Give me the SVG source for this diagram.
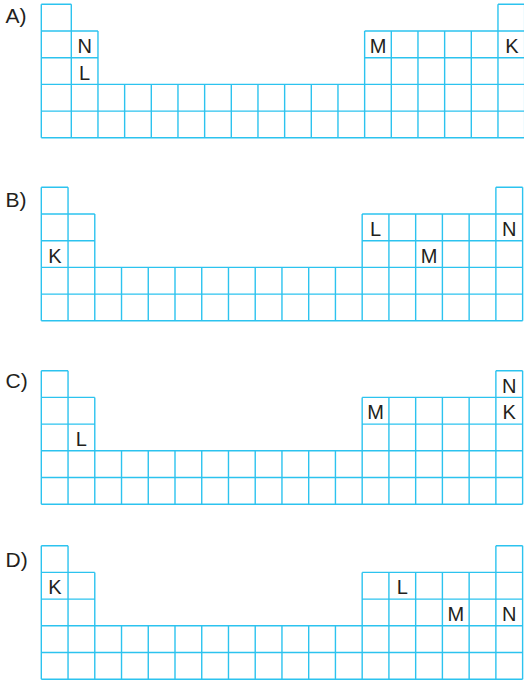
<svg xmlns="http://www.w3.org/2000/svg" width="524" height="682" viewBox="0 0 524 682">
<defs>
<style>
.g{fill:none;stroke:#2cc3ef;stroke-width:1.4}
.c{font-family:"Liberation Sans",Arial,sans-serif;font-size:20px;fill:#231f20;text-anchor:middle}
.lb{font-family:"Liberation Sans",Arial,sans-serif;font-size:21px;fill:#231f20}
</style>
<path id="grid" class="g" d="M0 0H26.74M454.58 0H481.32M0 26.7H53.48M320.88 26.7H481.32M0 53.4H53.48M320.88 53.4H481.32M0 80.1H481.32M0 106.8H481.32M0 133.5H481.32M0 0V133.5M26.74 0V133.5M53.48 26.7V133.5M80.22 80.1V133.5M106.96 80.1V133.5M133.7 80.1V133.5M160.44 80.1V133.5M187.18 80.1V133.5M213.92 80.1V133.5M240.66 80.1V133.5M267.4 80.1V133.5M294.14 80.1V133.5M320.88 26.7V133.5M347.62 26.7V133.5M374.36 26.7V133.5M401.1 26.7V133.5M427.84 26.7V133.5M454.58 0V133.5M481.32 0V133.5"/>
</defs>
<rect width="524" height="682" fill="#ffffff"/>
<g id="panelA">
<text class="lb" x="5.5" y="22.5">A)</text>
<g transform="translate(41.3,4.3)">
<path class="g" d="M0 0H30M456.67 0H483.34M0 26.7H56.67M323.34 26.7H483.34M0 53.4H56.67M323.34 53.4H483.34M0 80.1H483.34M0 106.8H483.34M0 133.5H483.34M0 0V133.5M30 0V133.5M56.67 26.7V133.5M83.34 80.1V133.5M110 80.1V133.5M136.67 80.1V133.5M163.34 80.1V133.5M190 80.1V133.5M216.67 80.1V133.5M243.34 80.1V133.5M270 80.1V133.5M296.67 80.1V133.5M323.34 26.7V133.5M350 26.7V133.5M376.67 26.7V133.5M403.34 26.7V133.5M430 26.7V133.5M456.67 0V133.5M483.34 0V133.5"/>
<text class="c" x="43.33" y="48.6">N</text>
<text class="c" x="43.33" y="75.3">L</text>
<text class="c" x="336.67" y="48.6">M</text>
<text class="c" x="470.5" y="48.6">K</text>
</g>
</g>
<g id="panelB">
<text class="lb" x="5.5" y="206.7">B)</text>
<g transform="translate(41.3,187.3)">
<use href="#grid"/>
<text class="c" x="13.6" y="75.3">K</text>
<text class="c" x="334.25" y="48.6">L</text>
<text class="c" x="467.95" y="48.6">N</text>
<text class="c" x="387.73" y="75.3">M</text>
</g>
</g>
<g id="panelC">
<text class="lb" x="5.5" y="388.3">C)</text>
<g transform="translate(41.3,370.7)">
<use href="#grid"/>
<text class="c" x="40.11" y="75.3">L</text>
<text class="c" x="334.25" y="48.6">M</text>
<text class="c" x="467.95" y="21.9">N</text>
<text class="c" x="467.95" y="48.6">K</text>
</g>
</g>
<g id="panelD">
<text class="lb" x="5.5" y="566.7">D)</text>
<g transform="translate(41.3,545.7)">
<use href="#grid"/>
<text class="c" x="13.6" y="48.6">K</text>
<text class="c" x="360.99" y="48.6">L</text>
<text class="c" x="414.47" y="75.3">M</text>
<text class="c" x="467.95" y="75.3">N</text>
</g>
</g>
</svg>
